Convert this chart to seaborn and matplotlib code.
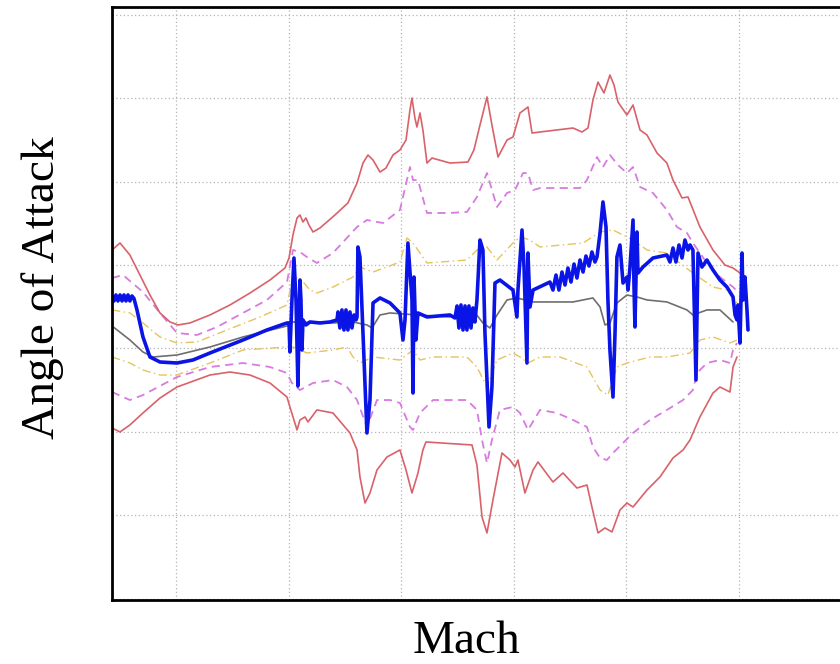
import matplotlib
matplotlib.use("Agg")
import matplotlib.pyplot as plt
import pandas as pd
import seaborn as sns

# ---- nominal angle of attack (grey) ----
mach_nom = [0.432, 0.591, 0.707, 0.796, 1.009, 1.302, 1.595, 1.986, 2.039, 2.394, 2.572,
            2.696, 2.741, 2.812, 2.901, 3.140, 3.433, 3.637, 3.726, 3.788, 3.851, 3.940,
            4.028, 4.171, 4.526, 4.703, 4.766, 4.810, 4.854, 4.916, 5.005, 5.094, 5.183,
            5.360, 5.538, 5.591, 5.715, 5.831, 5.947]
aoa_nom = [0.270, 0.102, -0.042, -0.102, -0.078, 0.018, 0.138, 0.270, 0.318, 0.306, 0.318,
           0.282, 0.246, 0.402, 0.426, 0.402, 0.378, 0.462, 0.306, 0.246, 0.402, 0.582,
           0.606, 0.558, 0.558, 0.606, 0.498, 0.282, 0.306, 0.546, 0.641, 0.618, 0.582,
           0.558, 0.462, 0.402, 0.462, 0.462, 0.318]

# ---- 3-sigma envelope (red) ----
mach_3s_hi = [0.432, 0.503, 0.591, 0.680, 0.769, 0.858, 0.947, 1.018, 1.124, 1.302, 1.480,
              1.657, 1.835, 1.968, 2.004, 2.039, 2.075, 2.101, 2.128, 2.154, 2.181, 2.217,
              2.279, 2.412, 2.527, 2.608, 2.661, 2.705, 2.750, 2.812, 2.865, 2.927, 2.989,
              3.043, 3.078, 3.096, 3.122, 3.140, 3.167, 3.193, 3.229, 3.274, 3.433, 3.593,
              3.646, 3.700, 3.762, 3.806, 3.860, 3.940, 3.993, 4.055, 4.091, 4.126, 4.162,
              4.233, 4.526, 4.606, 4.659, 4.703, 4.748, 4.801, 4.854, 4.890, 4.925, 5.005,
              5.059, 5.121, 5.183, 5.272, 5.360, 5.414, 5.494, 5.547, 5.653, 5.769, 5.875,
              5.947, 6.009]
aoa_3s_hi = [1.181, 1.265, 1.121, 0.881, 0.641, 0.426, 0.318, 0.282, 0.306, 0.402, 0.522,
             0.665, 0.821, 0.965, 1.085, 1.361, 1.565, 1.601, 1.517, 1.565, 1.481, 1.397,
             1.445, 1.601, 1.745, 1.984, 2.224, 2.320, 2.260, 2.116, 2.164, 2.320, 2.380,
             2.500, 2.860, 3.004, 2.764, 2.656, 2.824, 2.620, 2.224, 2.284, 2.224, 2.236,
             2.380, 2.680, 3.016, 2.680, 2.296, 2.500, 2.536, 2.824, 2.860, 2.896, 2.584,
             2.596, 2.644, 2.596, 2.644, 2.980, 3.195, 3.064, 3.279, 3.160, 2.956, 2.800,
             2.920, 2.620, 2.560, 2.344, 2.224, 2.020, 1.805, 1.817, 1.457, 1.181, 1.001,
             0.965, 0.905]

mach_3s_lo = [0.432, 0.503, 0.591, 0.707, 0.858, 1.009, 1.302, 1.480, 1.657, 1.835, 1.986,
              2.012, 2.075, 2.101, 2.146, 2.172, 2.252, 2.394, 2.545, 2.608, 2.634, 2.679,
              2.723, 2.785, 2.874, 2.989, 3.043, 3.096, 3.149, 3.193, 3.220, 3.629, 3.673,
              3.718, 3.762, 3.815, 3.895, 3.966, 4.011, 4.037, 4.099, 4.171, 4.215, 4.348,
              4.437, 4.561, 4.650, 4.694, 4.748, 4.810, 4.872, 4.943, 5.005, 5.059, 5.183,
              5.298, 5.414, 5.503, 5.565, 5.653, 5.769, 5.831, 5.920, 5.947, 5.982]
aoa_3s_lo = [-0.953, -1.001, -0.917, -0.773, -0.594, -0.462, -0.318, -0.282, -0.318, -0.414,
             -0.582, -0.701, -0.977, -0.857, -0.821, -0.881, -0.737, -0.773, -1.013, -1.217,
             -1.541, -1.853, -1.733, -1.457, -1.301, -1.217, -1.457, -1.733, -1.493, -1.217,
             -1.121, -1.157, -1.397, -2.020, -2.212, -1.817, -1.253, -1.337, -1.421, -1.337,
             -1.733, -1.457, -1.361, -1.601, -1.493, -1.673, -1.637, -1.901, -2.212, -2.152,
             -2.200, -1.937, -1.853, -1.901, -1.697, -1.541, -1.313, -1.217, -1.097, -0.821,
             -0.534, -0.462, -0.522, -0.222, -0.102]

# ---- 2-sigma envelope (magenta) ----
mach_2s_hi = [0.432, 0.529, 0.707, 0.858, 1.009, 1.187, 1.364, 1.595, 1.808, 1.986, 2.039,
              2.101, 2.163, 2.252, 2.394, 2.608, 2.696, 2.785, 2.839, 2.989, 3.078, 3.105,
              3.149, 3.229, 3.433, 3.584, 3.673, 3.762, 3.851, 3.940, 4.011, 4.082, 4.126,
              4.171, 4.233, 4.588, 4.650, 4.739, 4.792, 4.854, 4.925, 5.005, 5.059, 5.121,
              5.236, 5.360, 5.449, 5.538, 5.591, 5.715, 5.831, 5.947, 5.991]
aoa_2s_hi = [0.845, 0.881, 0.677, 0.426, 0.186, 0.162, 0.258, 0.426, 0.582, 0.797, 1.181,
             1.157, 1.097, 1.025, 1.145, 1.457, 1.541, 1.517, 1.505, 1.661, 2.176, 2.020,
             2.020, 1.625, 1.625, 1.637, 1.817, 2.104, 1.697, 1.865, 1.900, 2.104, 2.104,
             1.900, 1.924, 1.924, 2.020, 2.296, 2.176, 2.320, 2.200, 2.104, 2.176, 1.937,
             1.865, 1.661, 1.457, 1.385, 1.265, 1.025, 0.857, 0.737, 0.677]

mach_2s_lo = [0.432, 0.591, 0.707, 1.009, 1.302, 1.595, 1.835, 1.986, 2.030, 2.101, 2.217,
              2.394, 2.519, 2.608, 2.696, 2.785, 2.901, 2.989, 3.078, 3.105, 3.167, 3.283,
              3.584, 3.673, 3.718, 3.762, 3.806, 3.877, 3.993, 4.055, 4.126, 4.233, 4.384,
              4.526, 4.650, 4.703, 4.766, 4.827, 4.881, 4.970, 5.059, 5.210, 5.360, 5.503,
              5.591, 5.627, 5.715, 5.831, 5.920, 5.947, 5.982]
aoa_2s_lo = [-0.522, -0.618, -0.558, -0.342, -0.222, -0.174, -0.222, -0.294, -0.414, -0.498,
             -0.414, -0.378, -0.462, -0.618, -0.941, -0.618, -0.618, -0.653, -0.941, -0.977,
             -0.773, -0.618, -0.618, -0.737, -1.097, -1.373, -1.097, -0.737, -0.701, -0.773,
             -0.977, -0.737, -0.773, -0.857, -0.941, -1.181, -1.313, -1.337, -1.253, -1.133,
             -1.013, -0.857, -0.737, -0.618, -0.498, -0.294, -0.174, -0.138, -0.174, -0.018,
             0.066]

# ---- 1-sigma envelope (yellow) ----
mach_1s_hi = [0.432, 0.591, 0.707, 0.858, 1.009, 1.187, 1.453, 1.746, 1.986, 2.039, 2.101,
              2.190, 2.252, 2.394, 2.572, 2.634, 2.750, 2.874, 2.989, 3.051, 3.105, 3.229,
              3.584, 3.673, 3.762, 3.851, 3.993, 4.055, 4.144, 4.233, 4.615, 4.766, 4.881,
              5.005, 5.059, 5.183, 5.360, 5.591, 5.769, 5.893, 5.947, 5.982]
aoa_1s_hi = [0.462, 0.426, 0.306, 0.138, 0.066, 0.078, 0.222, 0.378, 0.522, 0.857, 0.845,
             0.701, 0.665, 0.737, 0.857, 0.977, 0.917, 0.977, 1.037, 1.325, 1.265, 1.025,
             1.061, 1.181, 1.217, 1.061, 1.265, 1.337, 1.301, 1.217, 1.265, 1.397, 1.421,
             1.337, 1.301, 1.181, 1.145, 0.905, 0.737, 0.701, 0.618, 0.546]

mach_1s_lo = [0.432, 0.591, 0.707, 0.858, 1.009, 1.302, 1.595, 1.986, 2.039, 2.163, 2.394,
              2.519, 2.572, 2.634, 2.750, 2.989, 3.105, 3.167, 3.283, 3.584, 3.673, 3.762,
              3.851, 3.993, 4.055, 4.126, 4.233, 4.410, 4.650, 4.766, 4.836, 4.916, 5.005,
              5.210, 5.360, 5.565, 5.653, 5.769, 5.920, 5.982]
aoa_1s_lo = [-0.102, -0.174, -0.258, -0.318, -0.318, -0.174, -0.018, 0.018, 0.018, -0.054,
             -0.018, 0.018, -0.102, -0.174, -0.102, -0.138, -0.018, -0.138, -0.102, -0.102,
             -0.222, -0.462, -0.138, -0.054, -0.102, -0.174, -0.102, -0.102, -0.222, -0.498,
             -0.558, -0.222, -0.174, -0.102, -0.102, -0.054, 0.102, 0.138, 0.066, 0.102]

# ---- measured flight angle of attack (blue) ----
mach_flt = [0.432, 0.450, 0.467, 0.485, 0.503, 0.521, 0.538, 0.556, 0.574, 0.591, 0.609,
            0.627, 0.654, 0.707, 0.769, 0.858, 1.009, 1.151, 1.302, 1.595, 1.808, 1.986,
            2.004, 2.012, 2.030, 2.048, 2.066, 2.083, 2.092, 2.101, 2.110, 2.119, 2.128,
            2.154, 2.190, 2.279, 2.368, 2.430, 2.439, 2.456, 2.474, 2.492, 2.510, 2.527,
            2.545, 2.563, 2.581, 2.599, 2.608, 2.616, 2.634, 2.661, 2.696, 2.723, 2.750,
            2.812, 2.901, 2.989, 3.016, 3.034, 3.060, 3.096, 3.105, 3.114, 3.131, 3.149,
            3.229, 3.433, 3.478, 3.496, 3.513, 3.531, 3.549, 3.567, 3.584, 3.602, 3.620,
            3.637, 3.655, 3.673, 3.700, 3.726, 3.744, 3.780, 3.806, 3.833, 3.877, 3.993,
            4.028, 4.037, 4.073, 4.091, 4.117, 4.126, 4.144, 4.171, 4.321, 4.348, 4.375,
            4.401, 4.428, 4.455, 4.481, 4.508, 4.535, 4.561, 4.588, 4.615, 4.641, 4.668,
            4.694, 4.721, 4.739, 4.766, 4.792, 4.819, 4.836, 4.854, 4.881, 4.899, 4.916,
            4.943, 4.970, 5.005, 5.014, 5.032, 5.059, 5.067, 5.076, 5.094, 5.103, 5.147,
            5.236, 5.360, 5.387, 5.414, 5.440, 5.467, 5.494, 5.520, 5.547, 5.565, 5.591,
            5.618, 5.636, 5.671, 5.715, 5.769, 5.831, 5.893, 5.947, 5.965, 5.982, 5.991,
            6.009, 6.027, 6.036, 6.053, 6.071, 6.080]
aoa_flt = [0.618, 0.570, 0.642, 0.570, 0.642, 0.570, 0.642, 0.570, 0.642, 0.570, 0.630,
           0.600, 0.462, 0.138, -0.102, -0.162, -0.174, -0.138, -0.054, 0.102, 0.222, 0.306,
           0.306, -0.042, 0.582, 1.085, 0.582, -0.450, 0.222, 0.821, 0.582, -0.018, 0.342,
           0.282, 0.318, 0.306, 0.318, 0.342, 0.438, 0.246, 0.462, 0.222, 0.462, 0.222,
           0.438, 0.246, 0.402, 0.342, 0.378, 1.217, 1.097, 0.186, -1.013, -0.618, 0.546,
           0.606, 0.546, 0.426, 0.102, 0.342, 1.265, 0.582, -0.534, 0.857, 0.102, 0.426,
           0.378, 0.402, 0.366, 0.510, 0.246, 0.522, 0.222, 0.510, 0.222, 0.510, 0.246,
           0.486, 0.318, 0.582, 1.301, 1.181, 0.186, -0.941, -0.462, 0.785, 0.821, 0.701,
           0.378, 0.701, 1.421, 0.977, -0.174, 1.145, 0.498, 0.701, 0.797, 0.701, 0.881,
           0.701, 0.917, 0.761, 0.965, 0.797, 1.013, 0.845, 1.061, 0.917, 1.109, 0.989,
           1.157, 1.037, 1.097, 1.385, 1.757, 1.457, 0.582, -0.018, -0.582, 0.186, 1.097,
           1.241, 0.785, 0.857, 0.701, 0.977, 1.541, 0.785, 0.258, 1.397, 0.905, 0.977,
           1.085, 1.121, 1.037, 1.205, 1.037, 1.241, 1.085, 1.301, 1.181, 1.241, 1.181,
           -0.378, 1.145, 0.977, 1.061, 0.941, 0.821, 0.737, 0.618, 0.402, 0.342, 0.522,
           0.066, 1.145, 0.582, 0.857, 0.462, 0.222]

mach_ticks = [1, 2, 3, 4, 5, 6]
aoa_ticks = [-3, -2, -1, 0, 1, 2, 3, 4]

sns.set_style("white")
plt.rcParams["font.family"] = ["Liberation Serif", "DejaVu Serif"]

fig = plt.figure(figsize=(8.4, 6.64), dpi=100)
ax = fig.add_axes([112 / 840, 64 / 664, 728 / 840, 593 / 664])

red = "#d9626a"
magenta = "#d77be0"
gold = "#e6c35c"

envelopes = [
    (mach_1s_hi, aoa_1s_hi, gold, (6, 2.5, 1, 2.5), 1.0),
    (mach_1s_lo, aoa_1s_lo, gold, (6, 2.5, 1, 2.5), 1.0),
    (mach_2s_hi, aoa_2s_hi, magenta, (4.5, 3), 1.3),
    (mach_2s_lo, aoa_2s_lo, magenta, (4.5, 3), 1.3),
    (mach_3s_hi, aoa_3s_hi, red, "", 1.2),
    (mach_3s_lo, aoa_3s_lo, red, "", 1.2),
]
for xs, ys, col, dash, lw in envelopes:
    df = pd.DataFrame({"Mach": xs, "AoA": ys})
    sns.lineplot(data=df, x="Mach", y="AoA", color=col, lw=lw,
                 estimator=None, sort=False, ax=ax)
    if dash:
        ax.lines[-1].set_dashes(dash)

nom = pd.DataFrame({"Mach": mach_nom, "AoA": aoa_nom})
sns.lineplot(data=nom, x="Mach", y="AoA", color="#6e6e6e", lw=1.2,
             estimator=None, sort=False, ax=ax)

flt = pd.DataFrame({"Mach": mach_flt, "AoA": aoa_flt})
sns.lineplot(data=flt, x="Mach", y="AoA", color="#0a14e6", lw=2.6,
             estimator=None, sort=False, ax=ax)

ax.set_xlim(0.432, 6.897)
ax.set_ylim(-3.016, 4.095)
ax.set_xticks(mach_ticks)
ax.set_yticks(aoa_ticks)
ax.grid(True, color="#b4b4b4", linestyle=(0, (1, 2)), linewidth=0.9)
ax.tick_params(direction="in", length=4, width=1, color="#9a9a9a",
               labelbottom=False, labelleft=False)
ax.set_xlabel("")
ax.set_ylabel("")
for side in ["left", "bottom", "top"]:
    ax.spines[side].set_visible(True)
    ax.spines[side].set_color("black")
    ax.spines[side].set_linewidth(2.0)
ax.spines["right"].set_visible(False)

fig.text(467 / 840, 1 - 653 / 664, "Mach", ha="center", va="baseline",
         fontsize=34, color="black")
fig.text(43 / 840, 1 - 288 / 664, "Angle of Attack", rotation=90,
         ha="center", va="center", fontsize=34, color="black")

fig.savefig("out.png", dpi=100, facecolor="white")
